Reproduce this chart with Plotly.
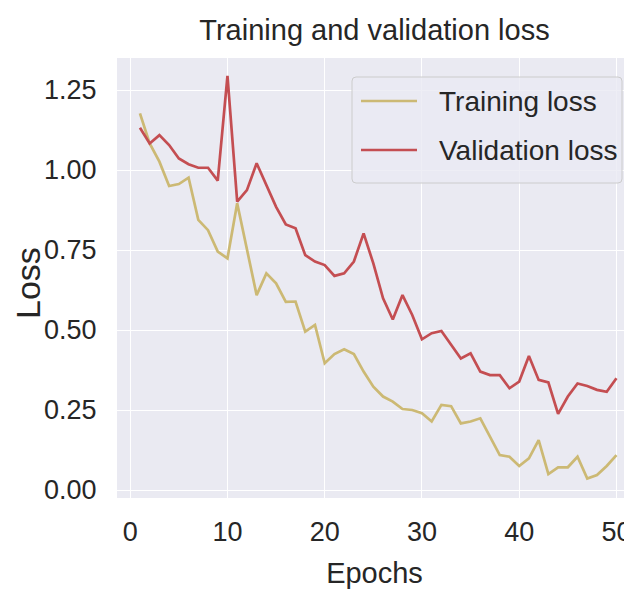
import plotly.graph_objects as go

epochs = list(range(1, 51))
training_loss = [1.177, 1.083, 1.026, 0.950, 0.956, 0.976, 0.844, 0.812, 0.745, 0.724,
                 0.896, 0.750, 0.609, 0.677, 0.646, 0.588, 0.589, 0.495, 0.516, 0.396,
                 0.425, 0.440, 0.425, 0.370, 0.323, 0.292, 0.276, 0.253, 0.250, 0.240,
                 0.214, 0.266, 0.262, 0.208, 0.214, 0.224, 0.167, 0.109, 0.104, 0.075,
                 0.099, 0.156, 0.050, 0.071, 0.071, 0.104, 0.036, 0.047, 0.075, 0.109]
validation_loss = [1.132, 1.083, 1.109, 1.078, 1.036, 1.018, 1.007, 1.007, 0.967, 1.294,
                   0.901, 0.937, 1.021, 0.950, 0.885, 0.830, 0.818, 0.734, 0.714, 0.703,
                   0.669, 0.677, 0.714, 0.802, 0.708, 0.599, 0.533, 0.609, 0.547, 0.471,
                   0.490, 0.497, 0.455, 0.411, 0.427, 0.370, 0.359, 0.359, 0.318, 0.339,
                   0.419, 0.344, 0.336, 0.238, 0.292, 0.333, 0.325, 0.313, 0.307, 0.349]
x_ticks = [0, 10, 20, 30, 40, 50]
y_ticks = [0.0, 0.25, 0.5, 0.75, 1.0, 1.25]
y_tick_labels = ["0.00", "0.25", "0.50", "0.75", "1.00", "1.25"]
series_names = ["Training loss", "Validation loss"]
series_colors = ["#ccb974", "#c44e52"]

FONT = "Liberation Sans, Arial, sans-serif"
TXT = "#262626"

fig = go.Figure()
for name, ys, col in zip(series_names, [training_loss, validation_loss], series_colors):
    fig.add_trace(go.Scatter(x=epochs, y=ys, mode="lines", name=name,
                             line=dict(color=col, width=2.7), showlegend=False))

# page body adds an 8px margin
OFF = 8
W, H = 632 - OFF, 589 - OFF
L, R, T = 117 - OFF, 0, 58 - OFF
B = H - (498 - OFF)
pw, ph = W - L - R, H - T - B

def px(x):
    return (x - OFF - L) / pw

def py(y):
    return (H - B - (y - OFF)) / ph

# manual legend (box, samples, labels) placed in screen pixels of the reference
bx0, bx1, by0, by1 = px(352), px(622), py(183), py(77)
rx, ry = 4 / pw, 4 / ph
path = (f"M{bx0+rx},{by0} L{bx1-rx},{by0} Q{bx1},{by0} {bx1},{by0+ry} "
        f"L{bx1},{by1-ry} Q{bx1},{by1} {bx1-rx},{by1} L{bx0+rx},{by1} "
        f"Q{bx0},{by1} {bx0},{by1-ry} L{bx0},{by0+ry} Q{bx0},{by0} {bx0+rx},{by0} Z")
fig.add_shape(type="path", path=path, xref="paper", yref="paper",
              fillcolor="rgba(234,234,242,0.8)", line=dict(color="#cccccc", width=1))
rows = [101, 150]
for name, col, r in zip(series_names, series_colors, rows):
    fig.add_shape(type="line", xref="paper", yref="paper", x0=px(361), x1=px(417),
                  y0=py(r), y1=py(r), line=dict(color=col, width=2.7))
    fig.add_annotation(text=name, xref="paper", yref="paper", x=px(437), y=py(r),
                       xanchor="left", yanchor="middle", showarrow=False,
                       font=dict(family=FONT, size=28, color=TXT))

# y-axis title as a rotated annotation
fig.add_annotation(text="Loss", xref="paper", yref="paper", x=px(28), y=py(283),
                   xanchor="center", yanchor="middle", showarrow=False, textangle=-90,
                   font=dict(family=FONT, size=34, color=TXT))

fig.update_layout(
    width=W, height=H,
    margin=dict(l=L, r=R, t=T, b=B, pad=0, autoexpand=False),
    paper_bgcolor="white", plot_bgcolor="#eaeaf2",
    title=dict(text="Training and validation loss", x=0.5, xref="paper", xanchor="center",
               y=1 - 12 / H, yref="container", yanchor="top",
               font=dict(family=FONT, size=29, color=TXT)),
    font=dict(family=FONT, color=TXT),
    xaxis=dict(range=[-1.36, 51.6], tickvals=x_ticks, showgrid=True, gridcolor="white",
               gridwidth=1.4, zeroline=False, showline=False, automargin=False,
               ticks="outside", ticklen=10, tickcolor="rgba(0,0,0,0)",
               tickfont=dict(family=FONT, size=27, color=TXT),
               title=dict(text="Epochs", standoff=20, font=dict(family=FONT, size=29, color=TXT))),
    yaxis=dict(range=[-0.025, 1.35], tickvals=y_ticks, ticktext=y_tick_labels,
               showgrid=True, gridcolor="white", gridwidth=1.4, zeroline=False, showline=False,
               automargin=False,
               ticks="outside", ticklen=14, tickcolor="rgba(0,0,0,0)",
               tickfont=dict(family=FONT, size=27, color=TXT)),
)

fig.write_html("out.html")
